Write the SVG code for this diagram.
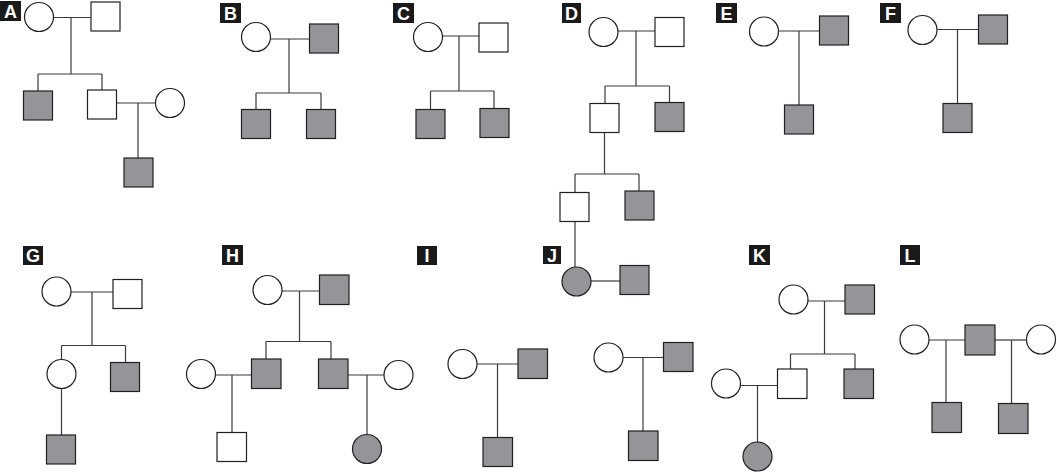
<svg xmlns="http://www.w3.org/2000/svg" width="1057" height="472" viewBox="0 0 1057 472">
<style>
.o{fill:#fff;stroke:#231f20;stroke-width:1.2}
.f{fill:#939598;stroke:#231f20;stroke-width:1.2}
.ln line{stroke:#3a3a3a;stroke-width:1.2}
.lb rect{fill:#1a1a1a}
.lb text{fill:#fff;font-family:"Liberation Sans",Arial,sans-serif;font-weight:bold;font-size:18px;text-anchor:middle}
</style>
<rect width="1057" height="472" fill="#fff"/>
<g class="lb" id="labels">
<rect x="0" y="1" width="21" height="20"/><text x="10.5" y="17.5">A</text>
<rect x="220" y="3" width="21" height="20"/><text x="230.5" y="19.5">B</text>
<rect x="393" y="3" width="21" height="20"/><text x="403.5" y="19.5">C</text>
<rect x="562" y="3" width="19" height="20"/><text x="571.5" y="19.5">D</text>
<rect x="716" y="3" width="21" height="20"/><text x="726.5" y="19.5">E</text>
<rect x="880" y="3" width="21" height="20"/><text x="890.5" y="19.5">F</text>
<rect x="23" y="246" width="20" height="19"/><text x="33" y="262">G</text>
<rect x="222" y="245" width="21" height="20"/><text x="232.5" y="261.5">H</text>
<rect x="417" y="246" width="20" height="19"/><text x="427" y="262">I</text>
<rect x="543" y="246" width="18" height="18"/><text x="552" y="261.5">J</text>
<rect x="749" y="245" width="21" height="20"/><text x="759.5" y="261.5">K</text>
<rect x="900" y="245" width="20" height="20"/><text x="910" y="261.5">L</text>
</g>
<g class="ln" id="connectors">
<!-- A -->
<line x1="53.5" y1="17.5" x2="91" y2="17.5"/><line x1="71" y1="17.5" x2="71" y2="74"/>
<line x1="38" y1="74" x2="102" y2="74"/><line x1="38" y1="74" x2="38" y2="91"/><line x1="102" y1="74" x2="102" y2="90"/>
<line x1="116.5" y1="103" x2="155.5" y2="103"/><line x1="138" y1="103" x2="138" y2="158"/>
<!-- B -->
<line x1="270.5" y1="39" x2="309.5" y2="39"/><line x1="289" y1="39" x2="289" y2="93"/>
<line x1="256" y1="93" x2="321" y2="93"/><line x1="256" y1="93" x2="256" y2="109.5"/><line x1="321" y1="93" x2="321" y2="109.5"/>
<!-- C -->
<line x1="442.5" y1="36" x2="479" y2="36"/><line x1="459" y1="36" x2="459" y2="91"/>
<line x1="430.5" y1="91" x2="494" y2="91"/><line x1="430.5" y1="91" x2="430.5" y2="109.5"/><line x1="494" y1="91" x2="494" y2="108.5"/>
<!-- D -->
<line x1="618" y1="31" x2="655" y2="31"/><line x1="636" y1="31" x2="636" y2="86"/>
<line x1="605" y1="86" x2="669.5" y2="86"/><line x1="605" y1="86" x2="605" y2="103.5"/><line x1="669.5" y1="86" x2="669.5" y2="102.5"/>
<line x1="604.5" y1="132.5" x2="604.5" y2="174"/>
<line x1="575" y1="174" x2="639" y2="174"/><line x1="575" y1="174" x2="575" y2="192.5"/><line x1="639" y1="174" x2="639" y2="191"/>
<line x1="575" y1="221.5" x2="575" y2="267"/>
<line x1="591" y1="281" x2="620" y2="281"/>
<!-- E -->
<line x1="779" y1="31" x2="819.5" y2="31"/><line x1="799" y1="31" x2="799" y2="105"/>
<!-- F -->
<line x1="937" y1="29.5" x2="978.5" y2="29.5"/><line x1="957.5" y1="29.5" x2="957.5" y2="103.5"/>
<!-- G -->
<line x1="71" y1="292" x2="113" y2="292"/><line x1="92" y1="292" x2="92" y2="345.5"/>
<line x1="61.5" y1="345.5" x2="125.5" y2="345.5"/><line x1="61.5" y1="345.5" x2="61.5" y2="359.5"/><line x1="125.5" y1="345.5" x2="125.5" y2="362.5"/>
<line x1="61.5" y1="388.5" x2="61.5" y2="435"/>
<!-- H -->
<line x1="282" y1="291" x2="319.5" y2="291"/><line x1="299.5" y1="291" x2="299.5" y2="341.5"/>
<line x1="266" y1="341.5" x2="331" y2="341.5"/><line x1="266" y1="341.5" x2="266" y2="359"/><line x1="331" y1="341.5" x2="331" y2="359"/>
<line x1="215.5" y1="375" x2="251.5" y2="375"/><line x1="232" y1="375" x2="232" y2="432.5"/>
<line x1="348" y1="375" x2="384" y2="375"/><line x1="367" y1="375" x2="367" y2="434.5"/>
<!-- I -->
<line x1="477" y1="364" x2="518" y2="364"/><line x1="497.5" y1="364" x2="497.5" y2="437.5"/>
<!-- J -->
<line x1="623" y1="357.5" x2="663.5" y2="357.5"/><line x1="643" y1="357.5" x2="643" y2="431"/>
<!-- K -->
<line x1="808" y1="301" x2="845" y2="301"/><line x1="824.5" y1="301" x2="824.5" y2="354"/>
<line x1="790.5" y1="354" x2="855" y2="354"/><line x1="790.5" y1="354" x2="790.5" y2="369"/><line x1="855" y1="354" x2="855" y2="369"/>
<line x1="740.5" y1="385.5" x2="777.5" y2="385.5"/><line x1="757.5" y1="385.5" x2="757.5" y2="442"/>
<!-- L -->
<line x1="929" y1="340" x2="965" y2="340"/><line x1="946" y1="340" x2="946" y2="402.5"/>
<line x1="995" y1="340" x2="1026.5" y2="340"/><line x1="1011.5" y1="340" x2="1011.5" y2="403.5"/>
</g>
<g id="pedigree-A">
<circle class="o" cx="39" cy="17" r="14.5"/><rect class="o" x="91" y="2" width="29" height="29"/>
<rect class="f" x="23.5" y="91" width="29" height="29"/><rect class="o" x="87.5" y="90" width="29" height="29"/>
<circle class="o" cx="170" cy="103" r="14.5"/><rect class="f" x="124" y="158" width="29" height="29"/>
</g>
<g id="pedigree-B">
<circle class="o" cx="256" cy="37" r="14.5"/><rect class="f" x="309.5" y="24" width="29" height="29"/>
<rect class="f" x="241.5" y="109.5" width="29" height="29"/><rect class="f" x="306.5" y="109.5" width="29" height="29"/>
</g>
<g id="pedigree-C">
<circle class="o" cx="428" cy="37" r="14.5"/><rect class="o" x="479" y="23" width="29" height="29"/>
<rect class="f" x="416" y="109.5" width="29" height="29"/><rect class="f" x="480" y="108.5" width="29" height="29"/>
</g>
<g id="pedigree-D">
<circle class="o" cx="603.5" cy="32" r="14.5"/><rect class="o" x="655" y="17.5" width="29" height="29"/>
<rect class="o" x="590" y="103.5" width="29" height="29"/><rect class="f" x="655" y="102.5" width="29" height="29"/>
<rect class="o" x="560" y="192.5" width="29" height="29"/><rect class="f" x="625" y="191" width="29" height="29"/>
<circle class="f" cx="576.5" cy="281.5" r="14.5"/><rect class="f" x="620" y="265.5" width="29" height="29"/>
</g>
<g id="pedigree-E">
<circle class="o" cx="764" cy="31.5" r="14.5"/><rect class="f" x="819.5" y="16" width="29" height="29"/>
<rect class="f" x="784.5" y="105" width="29" height="29"/>
</g>
<g id="pedigree-F">
<circle class="o" cx="922.5" cy="30" r="14.5"/><rect class="f" x="978.5" y="15" width="29" height="29"/>
<rect class="f" x="943" y="103.5" width="29" height="29"/>
</g>
<g id="pedigree-G">
<circle class="o" cx="56.5" cy="291.5" r="14.5"/><rect class="o" x="113" y="279.5" width="29" height="29"/>
<circle class="o" cx="61.5" cy="374" r="14.5"/><rect class="f" x="110.5" y="362.5" width="29" height="29"/>
<rect class="f" x="46.5" y="435" width="29" height="29"/>
</g>
<g id="pedigree-H">
<circle class="o" cx="267.5" cy="290" r="14.5"/><rect class="f" x="319.5" y="275" width="29.5" height="29.5"/>
<rect class="f" x="251.5" y="359" width="29.5" height="29.5"/><rect class="f" x="318.5" y="359" width="29.5" height="29.5"/>
<circle class="o" cx="201" cy="374" r="14.5"/><rect class="o" x="217" y="432.5" width="29.5" height="29"/>
<circle class="o" cx="398.5" cy="375" r="14.5"/><circle class="f" cx="367" cy="449" r="14.5"/>
</g>
<g id="pedigree-I">
<circle class="o" cx="462.5" cy="364" r="14.5"/><rect class="f" x="518" y="349" width="29.5" height="29.5"/>
<rect class="f" x="483" y="437.5" width="29.5" height="29"/>
</g>
<g id="pedigree-J">
<circle class="o" cx="608.5" cy="357.5" r="14.5"/><rect class="f" x="663.5" y="342.5" width="29.5" height="29"/>
<rect class="f" x="628.5" y="431" width="29.5" height="29.5"/>
</g>
<g id="pedigree-K">
<circle class="o" cx="793.5" cy="299.5" r="14.5"/><rect class="f" x="845" y="285" width="29.5" height="29"/>
<rect class="o" x="777.5" y="369" width="29.5" height="29.5"/><rect class="f" x="844" y="369" width="29.5" height="29.5"/>
<circle class="o" cx="726" cy="383.5" r="14.5"/><circle class="f" cx="757.5" cy="456.5" r="14.5"/>
</g>
<g id="pedigree-L">
<circle class="o" cx="914.5" cy="339.5" r="14.5"/><rect class="f" x="965" y="325" width="30" height="30"/>
<circle class="o" cx="1041" cy="339.5" r="14.5"/>
<rect class="f" x="932" y="402.5" width="29.5" height="30"/><rect class="f" x="998.5" y="403.5" width="29.5" height="30"/>
</g>
</svg>
